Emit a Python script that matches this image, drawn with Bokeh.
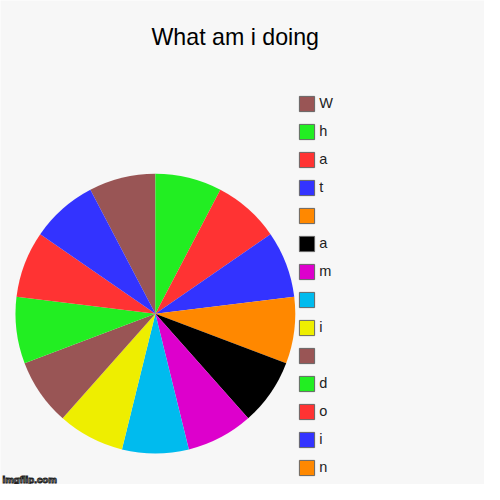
import numpy as np
from bokeh.plotting import figure
from bokeh.models import Range1d, ColumnDataSource, Legend, LegendItem
from bokeh.core.properties import value
from bokeh.embed import file_html
from bokeh.resources import INLINE

# ---- data ----
title_text = "What am i doing"
labels = ["W", "h", "a", "t", " ", "a", "m", " ", "i", " ", "d", "o", "i", "n", "g"]
values = [1, 1, 1, 1, 1, 1, 1, 1, 1, 1, 1, 1, 1, 0, 0]
colors = ["#995555", "#22ee22", "#ff3333", "#3333ff", "#ff8800", "#000000",
          "#dd00cc", "#00bbee", "#eeee00", "#995555", "#22ee22", "#ff3333",
          "#3333ff", "#ff8800", "#000000"]
watermark = "imgflip.com"

# ---- geometry (design space 500 x 500, drawn at 484 px) ----
W = H = 484
D = 500.0
s = W / D  # screen px per design unit
cx, cy, r = 160, 176.5, 144.5
start_deg = 117.7

vals = np.array(values, dtype=float)
cum = np.concatenate([[0.0], np.cumsum(vals)])
total = cum[-1]
starts = np.radians(start_deg - 360.0 * cum[:-1] / total)
ends = np.radians(start_deg - 360.0 * cum[1:] / total)
keep = vals > 0

pie_src = ColumnDataSource(dict(
    start=starts[keep], end=ends[keep],
    color=[c for c, k in zip(colors, keep) if k],
    label=[l for l, k in zip(labels, keep) if k],
))

bg = "#f7f7f7"
p = figure(width=W, height=H, x_range=Range1d(0, D), y_range=Range1d(0, D),
           x_axis_type=None, y_axis_type=None, output_backend="svg",
           toolbar_location=None, min_border=0)
p.outline_line_color = None
p.background_fill_color = bg
p.border_fill_color = bg
p.grid.visible = False

p.wedge(x=cx, y=cy, radius=r, start_angle="start", end_angle="end",
        direction="clock", fill_color="color", line_color=None, source=pie_src)

# legend proxy renderer (not drawn on the plot)
n = len(labels)
leg_src = ColumnDataSource(dict(
    left=[np.nan] * n, right=[np.nan] * n, top=[np.nan] * n, bottom=[np.nan] * n,
    color=colors,
))
proxy = p.quad(left="left", right="right", top="top", bottom="bottom",
               fill_color="color", line_color="#666666", line_width=1, source=leg_src)

gbox = 20 * s
row = 29 * s
gap = row - gbox
leg_left = 307 * s
leg_top = 97 * s
# only the entries that fit inside the chart area are listed (as in the original)
n_shown = int((H - leg_top + gap) // row)
n_shown = min(n_shown, n)
leg_h = n_shown * round(gbox) + (n_shown - 1) * round(gap)
items = [LegendItem(label=labels[i], renderers=[proxy], index=i) for i in range(n_shown)]
legend = Legend(items=items, location=(leg_left, H - leg_top - leg_h),
                glyph_width=round(gbox), glyph_height=round(gbox), label_height=round(gbox),
                spacing=round(gap), padding=0, margin=0, label_standoff=3,
                border_line_color=None, background_fill_alpha=0,
                label_text_font="Liberation Sans", label_text_font_size=f"{15 * s:.1f}px",
                label_text_color="#222222")
p.add_layout(legend)

# title
p.text(x=[242.5], y=[462], text=[title_text], text_font=value("Liberation Sans"),
       text_font_size=f"{24 * s:.1f}px", text_align="center", text_baseline="alphabetic",
       text_color="#000000")

# watermark
p.text(x=[2], y=[5], text=[watermark], text_font=value("Liberation Sans"),
       text_font_size=f"{10 * s:.1f}px", text_font_style="bold", text_color="#ffffff",
       text_outline_color="#222222", text_baseline="alphabetic", text_align="left")

open("out.html", "w").write(file_html(p, INLINE))
